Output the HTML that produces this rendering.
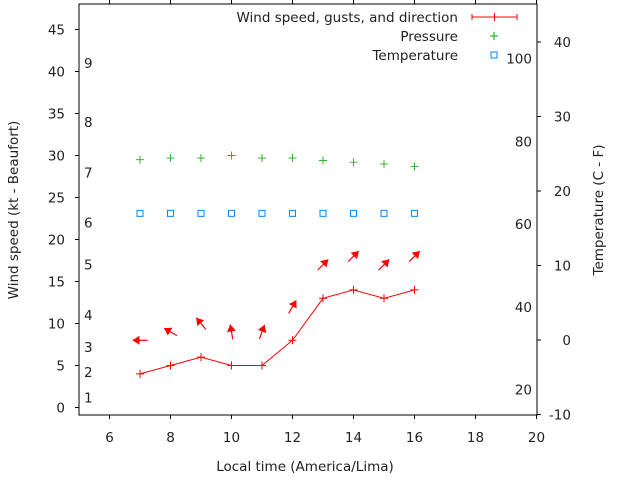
<!DOCTYPE html>
<html><head><meta charset="utf-8"><style>
html,body{margin:0;padding:0;background:#fff;}
svg{display:block;font-family:"DejaVu Sans","Liberation Sans",sans-serif;}
</style></head><body>
<svg id="chart" width="640" height="480" viewBox="0 0 640 480">
<g id="axes"></g><g id="marks"></g>
</svg>
<script>
const hours=[7,8,9,10,11,12,13,14,15,16];
const windKt=[4,5,6,5,5,8,13,14,13,14];
const gustKt=[8,9,10,9,9,12,17,18,17,18];
const dirDeg=[180,150,130,100,70,60,45,45,45,45];
const pressure=[29.5,29.7,29.7,30,29.7,29.7,29.4,29.2,29,28.7];
const tempC=[17,17,17,17,17,17,17,17,17,17];
const xTicks=[6,8,10,12,14,16,18,20];
const yTicks=[0,5,10,15,20,25,30,35,40,45];
const cTicks=[-10,0,10,20,30,40];
const fTicks=[20,40,60,80,100];
const beaufort=[[1,1.2],[2,4.2],[3,7.2],[4,11],[5,17],[6,22],[7,28],[8,34],[9,41]];

const FS=13.5;
const X=h=>79+(h-5)*30.5;
const Y=v=>407.5-v*8.4;
const YC=c=>340-c*7.45;
const YF=f=>YC((f-32)*5/9);
const NS='http://www.w3.org/2000/svg';
const axes=document.getElementById('axes'),marks=document.getElementById('marks');
function mk(p,t,a,txt){const e=document.createElementNS(NS,t);for(const k in a)e.setAttribute(k,a[k]);if(txt!==undefined)e.textContent=txt;p.appendChild(e);return e;}

let e=mk(axes,'rect',{x:79,y:4,width:458,height:411,fill:'none',stroke:'#000','stroke-width':1});


xTicks.forEach(t=>{
 mk(axes,'line',{x1:X(t),x2:X(t),y1:415,y2:419,stroke:'#000'});
 mk(axes,'line',{x1:X(t),x2:X(t),y1:0,y2:4,stroke:'#000'});
 e=mk(axes,'text',{x:X(t),y:442,'font-size':FS,'text-anchor':'middle',fill:'#222'},t);
 
 
});
yTicks.forEach(t=>{
 mk(axes,'line',{x1:75,x2:79,y1:Y(t),y2:Y(t),stroke:'#000'});
 e=mk(axes,'text',{x:65,y:Y(t)+5,'font-size':FS,'text-anchor':'end',fill:'#222'},t);
 
 
});
cTicks.forEach(t=>{
 mk(axes,'line',{x1:537,x2:541,y1:YC(t),y2:YC(t),stroke:'#000'});
 e=mk(axes,'text',{x:571,y:YC(t)+5,'font-size':FS,'text-anchor':'end',fill:'#222'},t);
 
 
});
fTicks.forEach(t=>{
 e=mk(axes,'text',{x:532,y:YF(t)+5,'font-size':FS,'text-anchor':'end',fill:'#222'},t);
 
 
});
beaufort.forEach(b=>{
 e=mk(axes,'text',{x:84,y:Y(b[1])+5,'font-size':FS,fill:'#222'},b[0]);
 
 
});
e=mk(axes,'text',{x:305,y:471,'font-size':FS,'text-anchor':'middle',fill:'#222'},'Local time (America/Lima)');


e=mk(axes,'text',{x:0,y:0,'font-size':FS,'text-anchor':'middle',fill:'#222',transform:'translate(18,210) rotate(-90)'},'Wind speed (kt - Beaufort)');


e=mk(axes,'text',{x:0,y:0,'font-size':FS,'text-anchor':'middle',fill:'#222',transform:'translate(603,210) rotate(-90)'},'Temperature (C - F)');



e=mk(marks,'polyline',{points:hours.map((h,i)=>X(h)+','+Y(windKt[i])).join(' '),fill:'none',stroke:'#f00','stroke-width':1});


hours.forEach((h,i)=>{
 const x=X(h),y=Y(windKt[i]);
 e=mk(marks,'path',{d:`M${x-4},${y}h8M${x},${y-4}v8`,stroke:'#f00'});
 
 
 const cx=x,cy=Y(gustKt[i]),a=dirDeg[i]*Math.PI/180,L=7.5;
 const dx=Math.cos(a),dy=-Math.sin(a);
 const hx=cx+dx*L,hy=cy+dy*L,tx=cx-dx*L,ty=cy-dy*L;
 const px=-dy,py=dx;
 const g=mk(marks,'g',{});
 
 
 mk(g,'line',{x1:tx,y1:ty,x2:hx,y2:hy,stroke:'#f00','stroke-width':1.2});
 mk(g,'polygon',{points:`${hx},${hy} ${hx-dx*7+px*4.5},${hy-dy*7+py*4.5} ${hx-dx*7-px*4.5},${hy-dy*7-py*4.5}`,fill:'#f00'});
 const py2=Y(pressure[i]);
 e=mk(marks,'path',{d:`M${x-4},${py2}h8M${x},${py2-4}v8`,stroke:'#2a2','stroke-width':0.9});
 
 
 e=mk(marks,'rect',{x:x-3,y:YC(tempC[i])-3,width:6,height:6,fill:'none',stroke:'#08f'});
 
 
});

const lg=mk(axes,'g',{});


[['Wind speed, gusts, and direction',17],['Pressure',36],['Temperature',55]].forEach(r=>{
 e=mk(lg,'text',{x:458,y:r[1]+5,'font-size':FS,'text-anchor':'end',fill:'#222'},r[0]);
 
 
});
mk(lg,'path',{d:'M472,17h45M472,14v6M517,14v6M494.5,13v8',stroke:'#f00'});
mk(lg,'path',{d:'M490,36h8M494,32v8',stroke:'#0a0'});
mk(lg,'rect',{x:491,y:52,width:6,height:6,fill:'none',stroke:'#08f'});
</script>
</body></html>
